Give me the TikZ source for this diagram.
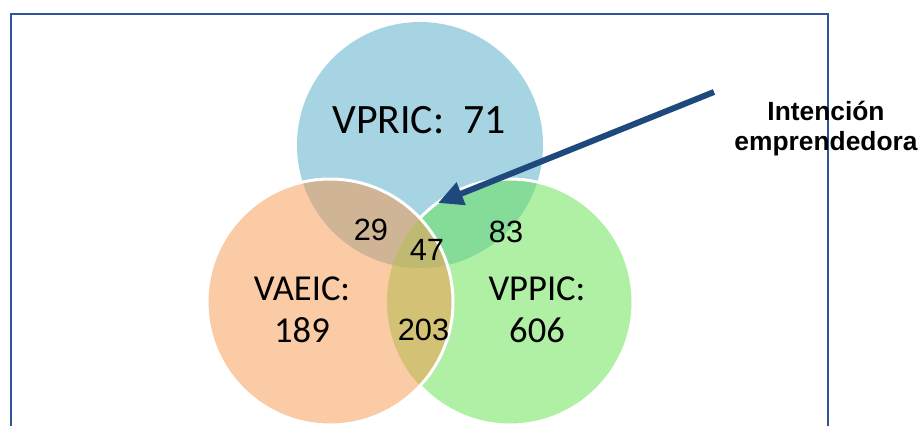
\documentclass[tikz,border=0pt]{standalone}
\usepackage{fontspec}
\setmainfont{Carlito}
\newfontfamily\arialfont{Liberation Sans}
\usetikzlibrary{arrows.meta}

\definecolor{cazul}{RGB}{166,212,226}
\definecolor{cnaranja}{RGB}{250,203,165}
\definecolor{cverde}{RGB}{176,240,164}
\definecolor{cazulnaranja}{RGB}{207,181,150}
\definecolor{cazulverde}{RGB}{133,219,152}
\definecolor{cnaranjaverde}{RGB}{211,194,118}
\definecolor{ctres}{RGB}{192,185,114}
\definecolor{cflecha}{RGB}{31,73,125}
\definecolor{cmarco}{RGB}{47,85,151}

\begin{document}
\begin{tikzpicture}[
    x=0.02cm, y=-0.02cm,
    titulo/.style={font=\fontsize{23.8}{23.8}\selectfont, inner sep=0pt, anchor=base},
    conjunto/.style={font=\fontsize{20.8}{23.8}\selectfont, align=center, inner sep=0pt, anchor=base},
    cifra/.style={font=\arialfont\fontsize{17.5}{20}\selectfont, inner sep=0pt, anchor=base},
    nota/.style={font=\arialfont\bfseries\fontsize{15}{17}\selectfont, align=center, inner sep=0pt, anchor=base},
    borde/.style={draw=white, line width=0.06cm},
    flecha/.style={-{Triangle[length=0.5cm, width=0.46cm]}, line width=0.12cm, cflecha}
]
\useasboundingbox (0,0) rectangle (923,426);

% Frame
\draw[cmarco, line width=0.9pt] (11,440) -- (11,14) -- (828,14) -- (828,440);

% Circle centres
\def\radio{123}
\coordinate (c-vpric) at (420,145);
\coordinate (c-vaeic) at (330,302);
\coordinate (c-vppic) at (510,302);

% Sets
\fill[cazul] (c-vpric) circle (\radio);
\fill[cverde] (c-vppic) circle (\radio);
\begin{scope}
  \clip (c-vpric) circle (\radio);
  \fill[cazulverde] (c-vppic) circle (\radio);
\end{scope}
\draw[borde] (c-vppic) circle (\radio);
\fill[cnaranja] (c-vaeic) circle (\radio);
\begin{scope}
  \clip (c-vaeic) circle (\radio);
  \fill[cazulnaranja] (c-vpric) circle (\radio);
  \fill[cnaranjaverde] (c-vppic) circle (\radio);
  \clip (c-vpric) circle (\radio);
  \fill[ctres] (c-vppic) circle (\radio);
\end{scope}
\draw[borde] (c-vaeic) circle (\radio);

% Labels
\node[titulo] (vpric) at (419,133) {VPRIC:\ \ 71};
\node[conjunto] (vaeic) at (302,342) {VAEIC:\\189};
\node[conjunto] (vppic) at (537,342) {VPPIC:\\606};
\node[cifra] (n29) at (371,240) {29};
\node[cifra] (n47) at (427,260) {47};
\node[cifra] (n83) at (506,242) {83};
\node[cifra] (n203) at (423.5,340) {203};

% Pointer
\node[nota] (intencion) at (826,150) {Intención\\emprendedora};
\coordinate (flecha-ini) at (714,92);
\coordinate (flecha-fin) at (438,203);
\draw[flecha] (flecha-ini) -- (flecha-fin);

\end{tikzpicture}
\end{document}
